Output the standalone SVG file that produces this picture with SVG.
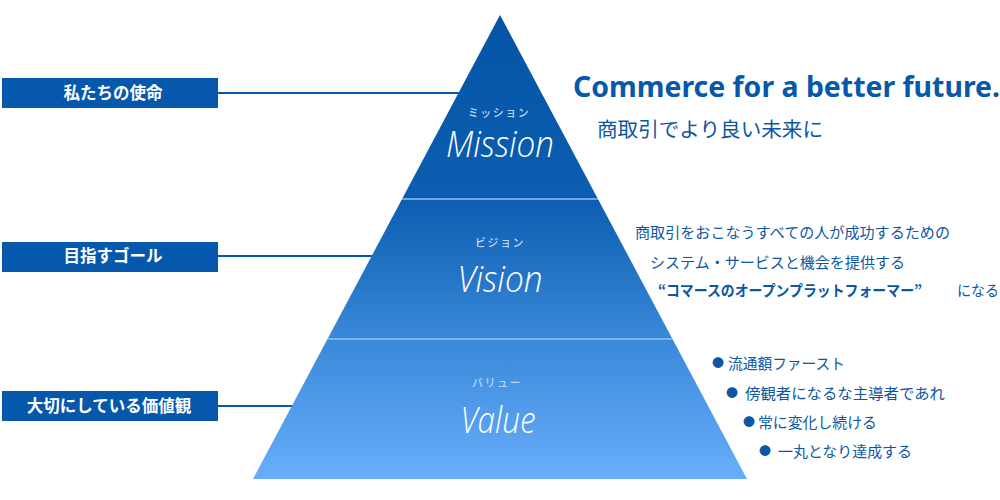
<svg xmlns="http://www.w3.org/2000/svg" width="1000" height="500" viewBox="0 0 1000 500">
<style>
.lbl{font-family:"Noto Sans CJK JP","Noto Sans",sans-serif;font-weight:bold;font-size:16.5px;fill:#fff;text-anchor:middle}
.box{fill:#0558ab}
.kana{font-family:"Noto Sans CJK JP",sans-serif;font-size:11px;font-weight:500;fill:#bcd6f2;text-anchor:middle;letter-spacing:1.5px}
.script{font-family:"Open Sans","Noto Sans",sans-serif;font-style:italic;font-weight:300;font-size:36px;fill:#fff;text-anchor:middle}
.jp{font-family:"Noto Sans CJK JP",sans-serif;font-size:15px;fill:#0b57a4}
.div{stroke:#94c0ec;stroke-width:1.5}
.conn{stroke:#0558ab;stroke-width:2;fill:none}
</style>
<defs>
<linearGradient id="pg" gradientUnits="userSpaceOnUse" x1="0" y1="15" x2="0" y2="479">
<stop offset="0" stop-color="#0454a6"/>
<stop offset="0.397" stop-color="#0b5eb1"/>
<stop offset="0.698" stop-color="#3a88d9"/>
<stop offset="1" stop-color="#68aefb"/>
</linearGradient>
</defs>
<rect width="1000" height="500" fill="#fff"/>
<g id="connectors">
<line class="conn" x1="218" y1="93" x2="459" y2="93"/>
<line class="conn" x1="218" y1="256" x2="372" y2="256"/>
<line class="conn" x1="218" y1="406" x2="293" y2="406"/>
</g>
<g id="pyramid">
<polygon points="500,15 747,479 253,479" fill="url(#pg)"/>
<line class="div" x1="402.1" y1="199" x2="597.9" y2="199"/>
<line class="div" x1="327.6" y1="339" x2="672.4" y2="339"/>
</g>
<g id="mission">
<text class="kana" x="499" y="117">ミッション</text>
<text class="script" x="500" y="157" textLength="108" lengthAdjust="spacingAndGlyphs">Mission</text>
</g>
<g id="vision">
<text class="kana" x="500" y="247">ビジョン</text>
<text class="script" x="500" y="292" textLength="85" lengthAdjust="spacingAndGlyphs">Vision</text>
</g>
<g id="value">
<text class="kana" x="497" y="387">バリュー</text>
<text class="script" x="498" y="433" textLength="75" lengthAdjust="spacingAndGlyphs">Value</text>
</g>
<g id="label-mission">
<rect class="box" x="2" y="78" width="216" height="30"/>
<text class="lbl" x="113" y="99">私たちの使命</text>
</g>
<g id="label-vision">
<rect class="box" x="2" y="242" width="216" height="30"/>
<text class="lbl" x="113" y="262">目指すゴール</text>
</g>
<g id="label-value">
<rect class="box" x="2" y="391" width="216" height="30"/>
<text class="lbl" x="109" y="412">大切にしている価値観</text>
</g>
<g id="mission-text">
<text x="573" y="97" textLength="427" lengthAdjust="spacingAndGlyphs" style="font-family:'Noto Sans',sans-serif;font-weight:bold;font-size:28px;fill:#0558ab">Commerce for a better future.</text>
<text class="jp" x="597" y="136.5" textLength="226" lengthAdjust="spacingAndGlyphs" style="font-size:20px">商取引でより良い未来に</text>
</g>
<g id="vision-text">
<text class="jp" x="635" y="237.7" textLength="315" lengthAdjust="spacingAndGlyphs">商取引をおこなうすべての人が成功するための</text>
<text class="jp" x="650" y="267.7" textLength="255" lengthAdjust="spacingAndGlyphs">システム・サービスと機会を提供する</text>
<text class="jp" x="658" y="295.7" textLength="264" lengthAdjust="spacingAndGlyphs" style="font-weight:bold">“コマースのオープンプラットフォーマー”</text>
<text class="jp" x="957" y="295.7" textLength="42" lengthAdjust="spacingAndGlyphs">になる</text>
</g>
<g id="value-text">
<text class="jp" x="718" y="367.5" style="text-anchor:middle;font-size:12px">●</text>
<text class="jp" x="728" y="368.7" textLength="117" lengthAdjust="spacingAndGlyphs">流通額ファースト</text>
<text class="jp" x="732" y="397.5" style="text-anchor:middle;font-size:12px">●</text>
<text class="jp" x="745" y="398.7" textLength="200" lengthAdjust="spacingAndGlyphs">傍観者になるな主導者であれ</text>
<text class="jp" x="749" y="426.5" style="text-anchor:middle;font-size:12px">●</text>
<text class="jp" x="758" y="427.7" textLength="119" lengthAdjust="spacingAndGlyphs">常に変化し続ける</text>
<text class="jp" x="765" y="455.5" style="text-anchor:middle;font-size:12px">●</text>
<text class="jp" x="778" y="456.7" textLength="134" lengthAdjust="spacingAndGlyphs">一丸となり達成する</text>
</g>
</svg>
